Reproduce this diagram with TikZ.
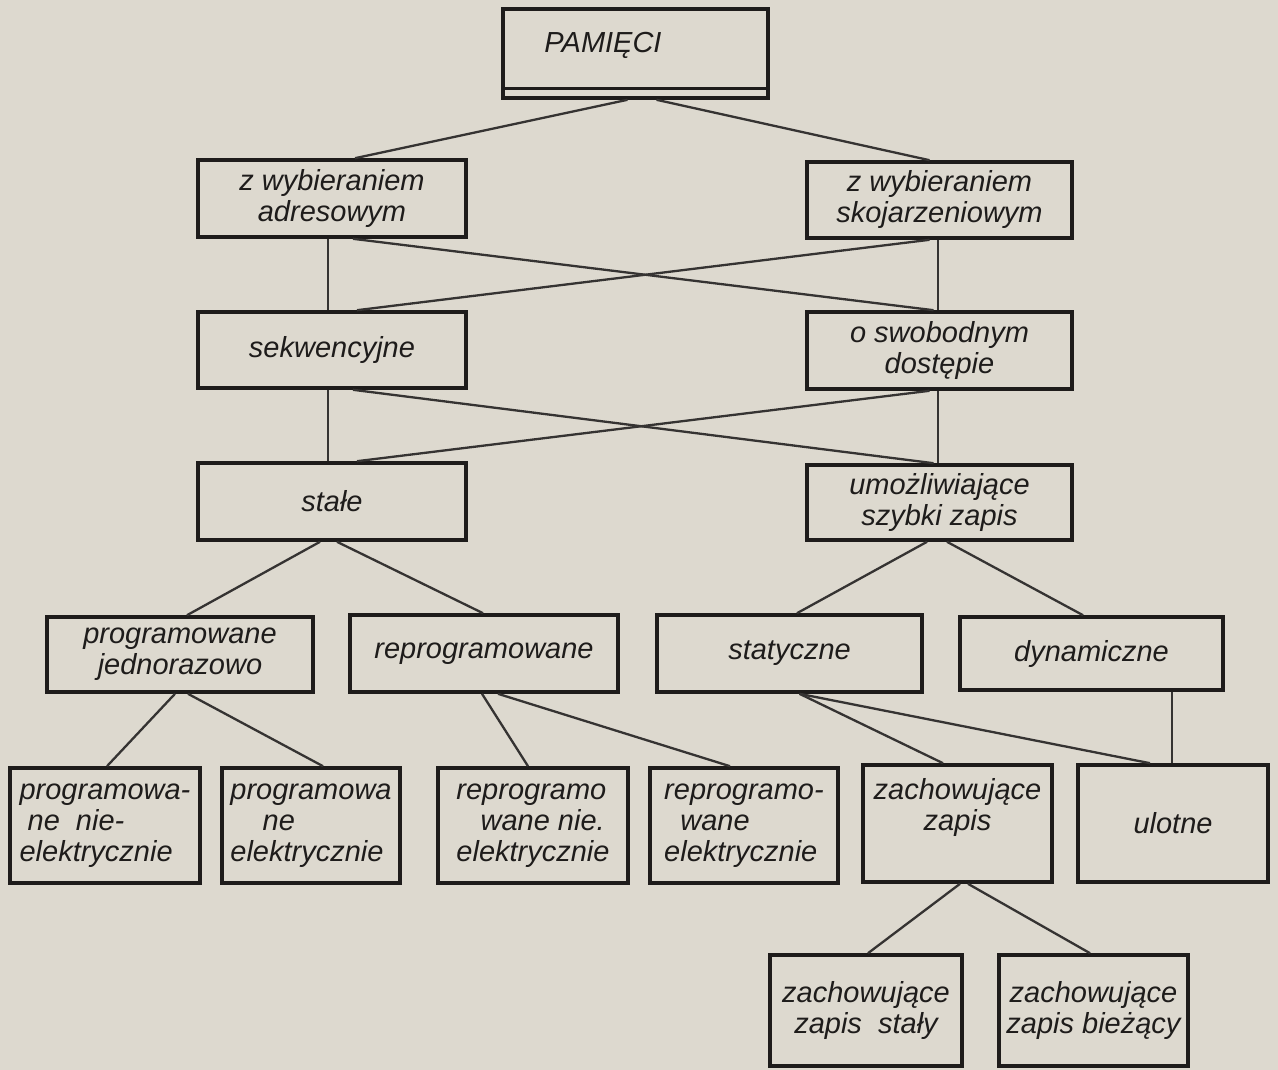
\documentclass[tikz,border=0pt]{standalone}
\usepackage{fontspec}
\setmainfont{Liberation Sans}
\definecolor{paper}{RGB}{221,217,207}
\definecolor{ink}{RGB}{30,28,27}
\begin{document}
\begin{tikzpicture}[x=1pt,y=-1pt,
  box/.style={draw=ink, line width=3.6pt, rectangle, inner sep=0pt,
    font=\itshape\fontsize{29}{31}\selectfont, text=ink, align=center},
  tall/.style={box, minimum height=115pt},
  conn/.style={draw=ink!90, line width=2.3pt}]
\fill[paper] (0,0) rectangle (1278,1070);
\useasboundingbox (0,0) rectangle (1278,1070);

% level 0
\node[box, minimum width=265pt, minimum height=89pt] (pam) at (635.5,53.5) {};
\node[font=\itshape\fontsize{29}{31}\selectfont, text=ink, inner sep=0pt] (pamt) at (603,45) {PAMIĘCI};
\draw[ink, line width=2.8pt] ([yshift=11pt]pam.south west) -- ([yshift=11pt]pam.south east);

% level 1
\node[box, minimum width=268pt, minimum height=77pt] (adr) at (332,198.5) {z wybieraniem\\adresowym};
\node[box, minimum width=265pt, minimum height=76pt] (sko) at (939.5,200) {z wybieraniem\\skojarzeniowym};
% level 2
\node[box, minimum width=268pt, minimum height=76pt] (sek) at (332,350) {sekwencyjne};
\node[box, minimum width=265pt, minimum height=77pt] (swo) at (939.5,350.5) {o swobodnym\\dostępie};
% level 3
\node[box, minimum width=268pt, minimum height=77pt] (sta) at (332,501.5) {stałe};
\node[box, minimum width=265pt, minimum height=75pt] (umo) at (939.5,502.5) {umożliwiające\\szybki zapis};
% level 4
\node[box, minimum width=266pt, minimum height=75pt] (pj) at (180,654.5) {programowane\\jednorazowo};
\node[box, minimum width=268pt, minimum height=77pt] (rep) at (484,653.5) {reprogramowane};
\node[box, minimum width=265pt, minimum height=77pt] (sty) at (789.5,653.5) {statyczne};
\node[box, minimum width=263pt, minimum height=73pt] (dyn) at (1091.5,653.5) {dynamiczne};
% level 5
\node[tall, minimum width=190pt, align=left] (pne) at (105,825.5) {programowa-\\\ ne\ \ nie-\\elektrycznie};
\node[tall, minimum width=178pt, align=left] (pe) at (311,825.5) {programowa\\\ \ \ \ ne\\elektrycznie};
\node[tall, minimum width=190pt, align=left] (rne) at (533,825.5) {reprogramo\\\ \ \ wane nie.\\elektrycznie};
\node[tall, minimum width=188pt, align=left] (rel) at (744,825.5) {reprogramo-\\\ \ wane\\elektrycznie};
\node[box, minimum width=189pt, minimum height=117pt] (zz) at (957.5,823.5) {zachowujące\\zapis\\[8pt]};
\node[box, minimum width=190pt, minimum height=117pt] (ul) at (1173,823.5) {ulotne};
% level 6
\node[box, minimum width=192pt, minimum height=111pt] (zs) at (866,1010.5) {zachowujące\\zapis\ \ stały};
\node[box, minimum width=189pt, minimum height=111pt] (zb) at (1093.5,1010.5) {zachowujące\\zapis bieżący};

% connectors
\draw[conn] ([xshift=-8pt]pam.south) -- ([xshift=23pt]adr.north);
\draw[conn] ([xshift=21pt]pam.south) -- ([xshift=-10pt]sko.north);

\draw[conn] ([xshift=-4pt]adr.south) -- ([xshift=-4pt]sek.north);
\draw[conn] ([xshift=21pt]adr.south) -- ([xshift=-6pt]swo.north);
\draw[conn] ([xshift=-10pt]sko.south) -- ([xshift=25pt]sek.north);
\draw[conn] ([xshift=-1.5pt]sko.south) -- ([xshift=-1.5pt]swo.north);

\draw[conn] ([xshift=-4pt]sek.south) -- ([xshift=-4pt]sta.north);
\draw[conn] ([xshift=21pt]sek.south) -- ([xshift=-6pt]umo.north);
\draw[conn] ([xshift=-10pt]swo.south) -- ([xshift=25pt]sta.north);
\draw[conn] ([xshift=-1.5pt]swo.south) -- ([xshift=-1.5pt]umo.north);

\draw[conn] ([xshift=-12pt]sta.south) -- ([xshift=7pt]pj.north);
\draw[conn] ([xshift=5pt]sta.south) -- ([xshift=-1pt]rep.north);
\draw[conn] ([xshift=-12.5pt]umo.south) -- ([xshift=7.5pt]sty.north);
\draw[conn] ([xshift=7.5pt]umo.south) -- ([xshift=-8.5pt]dyn.north);

\draw[conn] ([xshift=-5pt]pj.south) -- ([xshift=2pt]pne.north);
\draw[conn] ([xshift=8pt]pj.south) -- ([xshift=12pt]pe.north);
\draw[conn] ([xshift=-2pt]rep.south) -- ([xshift=-5pt]rne.north);
\draw[conn] ([xshift=14pt]rep.south) -- ([xshift=-14pt]rel.north);
\draw[conn] ([xshift=10pt]sty.south) -- ([xshift=-14.5pt]zz.north);
\draw[conn] ([xshift=10pt]sty.south) -- ([xshift=-23pt]ul.north);
\draw[conn] ([xshift=80.5pt]dyn.south) -- ([xshift=-1pt]ul.north);

\draw[conn] ([xshift=2.5pt]zz.south) -- ([xshift=2pt]zs.north);
\draw[conn] ([xshift=10.5pt]zz.south) -- ([xshift=-3.5pt]zb.north);
\end{tikzpicture}
\end{document}
